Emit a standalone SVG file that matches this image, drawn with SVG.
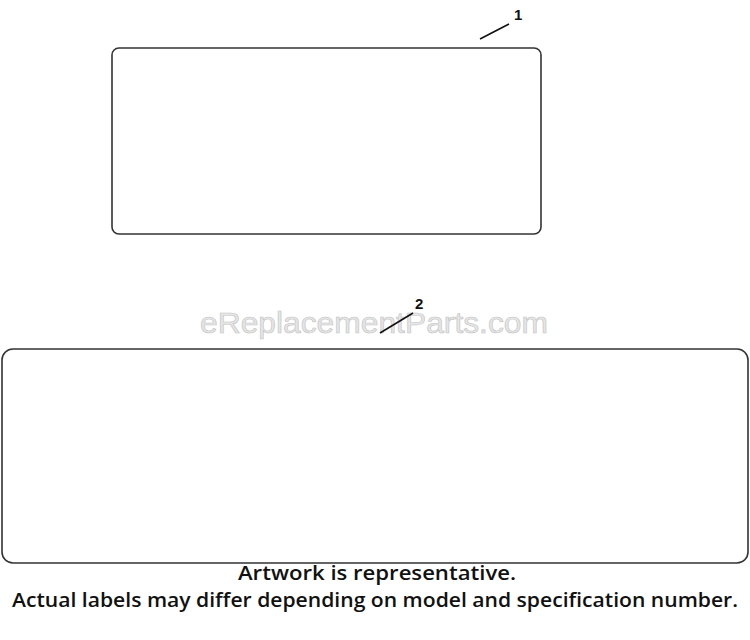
<svg xmlns="http://www.w3.org/2000/svg" width="750" height="640" viewBox="0 0 750 640">
<style>
.box{fill:#fff;stroke:#333;stroke-width:1.6}
.lead{stroke:#111;stroke-width:1.6;fill:none}
.num{font-family:"Liberation Sans",Arial,sans-serif;font-weight:bold;font-size:15px;fill:#111}
.note{font-family:"Open Sans","Noto Sans",sans-serif;font-weight:600;font-size:20px;fill:#111;text-anchor:middle}
.wm{font-family:"Liberation Sans",Arial,sans-serif;font-size:29px;fill:#e6e6e6;stroke:#c4c4c4;stroke-width:0.6;text-anchor:middle}
</style>
<rect width="750" height="640" fill="#fff"/>
<g id="label1">
<rect class="box" x="112" y="48" width="429" height="186" rx="7"/>
</g>
<g id="label2">
<rect class="box" x="2" y="349" width="746" height="214" rx="11"/>
</g>
<text class="wm" x="374" y="333" textLength="348" lengthAdjust="spacingAndGlyphs">eReplacementParts.com</text>
<g id="connectors">
<line class="lead" x1="480" y1="39" x2="509" y2="24"/>
<line class="lead" x1="380" y1="333" x2="413" y2="313"/>
</g>
<text class="num" x="514" y="20">1</text>
<text class="num" x="415" y="309">2</text>
<text class="note" x="377" y="580" textLength="278" lengthAdjust="spacingAndGlyphs">Artwork is representative.</text>
<text class="note" x="375" y="607" textLength="726" lengthAdjust="spacingAndGlyphs">Actual labels may differ depending on model and specification number.</text>
</svg>
